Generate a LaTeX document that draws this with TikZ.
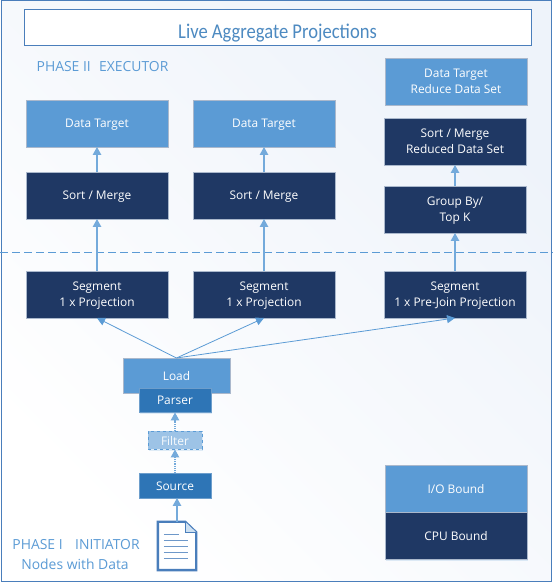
\documentclass[tikz,border=0pt]{standalone}
\usepackage{fontspec}
\setmainfont{Open Sans}
\newfontfamily\titlefont[FakeStretch=0.885]{Carlito}
\usetikzlibrary{arrows.meta, positioning, calc, shadows}
\definecolor{mydark}{RGB}{31,56,100}
\definecolor{myblue}{RGB}{91,155,213}
\definecolor{mymid}{RGB}{46,117,182}
\definecolor{mylight}{RGB}{157,195,230}
\definecolor{myframe}{RGB}{74,126,187}
\definecolor{myedge}{RGB}{170,184,204}
\definecolor{mypale}{RGB}{238,243,250}
\tikzset{
  softshadow/.style={drop shadow={shadow xshift=0.8pt, shadow yshift=-1.5pt, opacity=0.18, fill=myblue}},
  cpublock/.style={rectangle, draw=myedge, fill=mydark, text=white, align=center, inner sep=0pt, outer sep=0pt,
    minimum width=142pt, minimum height=47pt, text depth=0pt, font=\fontsize{11.9}{16}\selectfont, line width=0.8pt, softshadow},
  ioblock/.style={cpublock, fill=myblue},
  midblock/.style={cpublock, fill=mymid, draw=mymid!70!white, minimum width=72pt, minimum height=24.5pt},
  filterblock/.style={midblock, fill=mylight, draw=myblue, dashed, minimum width=54pt, minimum height=18pt, line width=1pt, text=white!90!mylight},
  phaselabel/.style={text=myblue, inner sep=0pt, font=\fontsize{13.9}{19}\selectfont},
  arrow/.style={-{Triangle[length=8pt, width=8.5pt]}, line width=1.2pt, color=myblue!85!white},
  dotarrow/.style={arrow, densely dotted},
  thinarrow/.style={-{Triangle[length=8pt, width=8pt]}, line width=0.8pt, color=myblue}
}
\begin{document}
\begin{tikzpicture}[x=1pt, y=1pt, node distance=25pt]
  \useasboundingbox (0,0) rectangle (553,583);
  \shade [top color=mypale, bottom color=white, shading angle=-45] (1.5,1.5) rectangle (551,582);
  \draw [myframe, line width=1pt] (1.5,1.5) rectangle (551,582);

  \node [draw=myframe, fill=white, line width=1pt, minimum width=507pt, minimum height=36pt, inner sep=0pt,
    text height=20.6pt, text depth=0pt, text=mymid!85!white, font=\titlefont\fontsize{21}{25}\selectfont] (title) at (277.5,555) {Live Aggregate Projections};
  \node [phaselabel] (phasetwo) at (102.5,516) {PHASE II\hspace{0.6em}EXECUTOR};

  % left and middle columns
  \node [ioblock] (target1) at (97,459.5) {Data Target};
  \node [ioblock, right=of target1] (target2) {Data Target};
  \node [cpublock, below=of target1] (sort1) {Sort / Merge};
  \node [cpublock, below=of target2] (sort2) {Sort / Merge};
  \node [cpublock, below=52pt of sort1] (seg1) {Segment\\1 x Projection};
  \node [cpublock, below=52pt of sort2] (seg2) {Segment\\1 x Projection};

  % right column
  \node [ioblock] (target3) at (456,501.5) {Data Target\\Reduce Data Set};
  \node [cpublock] (sort3) at (455,441.5) {Sort / Merge\\Reduced Data Set};
  \node [cpublock, below=21pt of sort3] (group) {Group By/\\Top K};
  \node [cpublock, below=38pt of group] (seg3) {Segment\\1 x Pre-Join Projection};

  % loader stack
  \node [ioblock, minimum width=107pt, minimum height=35pt] (load) at (176.5,207.5) {Load};
  \node [midblock, below=-5pt of load.south, xshift=-1.5pt] (parser) {Parser};
  \node [filterblock, below=19pt of parser] (filter) {Filter};
  \node [midblock, below=24pt of filter] (source) {Source};

  % legend
  \node [ioblock] (iobound) at (456,94) {I/O Bound};
  \node [cpublock, below=0pt of iobound] (cpubound) {CPU Bound};

  \node [phaselabel] (phaseone) at (76,38) {PHASE I\hspace{0.9em}INITIATOR};
  \node [phaselabel] (nodesdata) at (75,19) {Nodes with Data};

  % document icon
  \node [minimum width=36pt, minimum height=46pt, inner sep=0pt, outer sep=1.2pt] (doc) at (177,37) {};
  \draw [myframe, line width=2.4pt, fill=white, line join=miter]
    (doc.north west) -- ($(doc.north east)+(-11,0)$) -- ($(doc.north east)+(0,-10.5)$) -- (doc.south east) -- (doc.south west) -- cycle;
  \draw [myframe, line width=1.2pt, fill=mylight!50!white]
    ($(doc.north east)+(-11,0)$) -- ($(doc.north east)+(-11,-10.5)$) -- ($(doc.north east)+(0,-10.5)$);
  \draw [myframe!80!white, line width=1.4pt] ($(doc.north west)+(6,-12.5)$) -- +(15,0);
  \foreach \row in {18.5,24.5,30.5,36.5}
    \draw [myframe!80!white, line width=1.4pt] ($(doc.north west)+(6,-\row)$) -- +(24,0);

  \draw [myblue, dash pattern=on 8pt off 4pt, line width=1pt] (0,330.5) coordinate (sepl) -- (553,330.5) coordinate (sepr);

  \draw [arrow] (sort1) -- (target1);
  \draw [arrow] (sort2) -- (target2);
  \draw [arrow] (seg1) -- (sort1);
  \draw [arrow] (seg2) -- (sort2);
  \draw [arrow] (group) -- (sort3);
  \draw [arrow] (seg3) -- (group);
  \draw [thinarrow] (load.north) -- (seg1.south);
  \draw [thinarrow] (load.north) -- (seg2.south);
  \draw [thinarrow] (load.north) -- (seg3.south);
  \draw [dotarrow] (filter) -- (parser);
  \draw [dotarrow] (source) -- (filter);
  \draw [arrow] (doc.north) -- (doc.north |- source.south);
\end{tikzpicture}
\end{document}
